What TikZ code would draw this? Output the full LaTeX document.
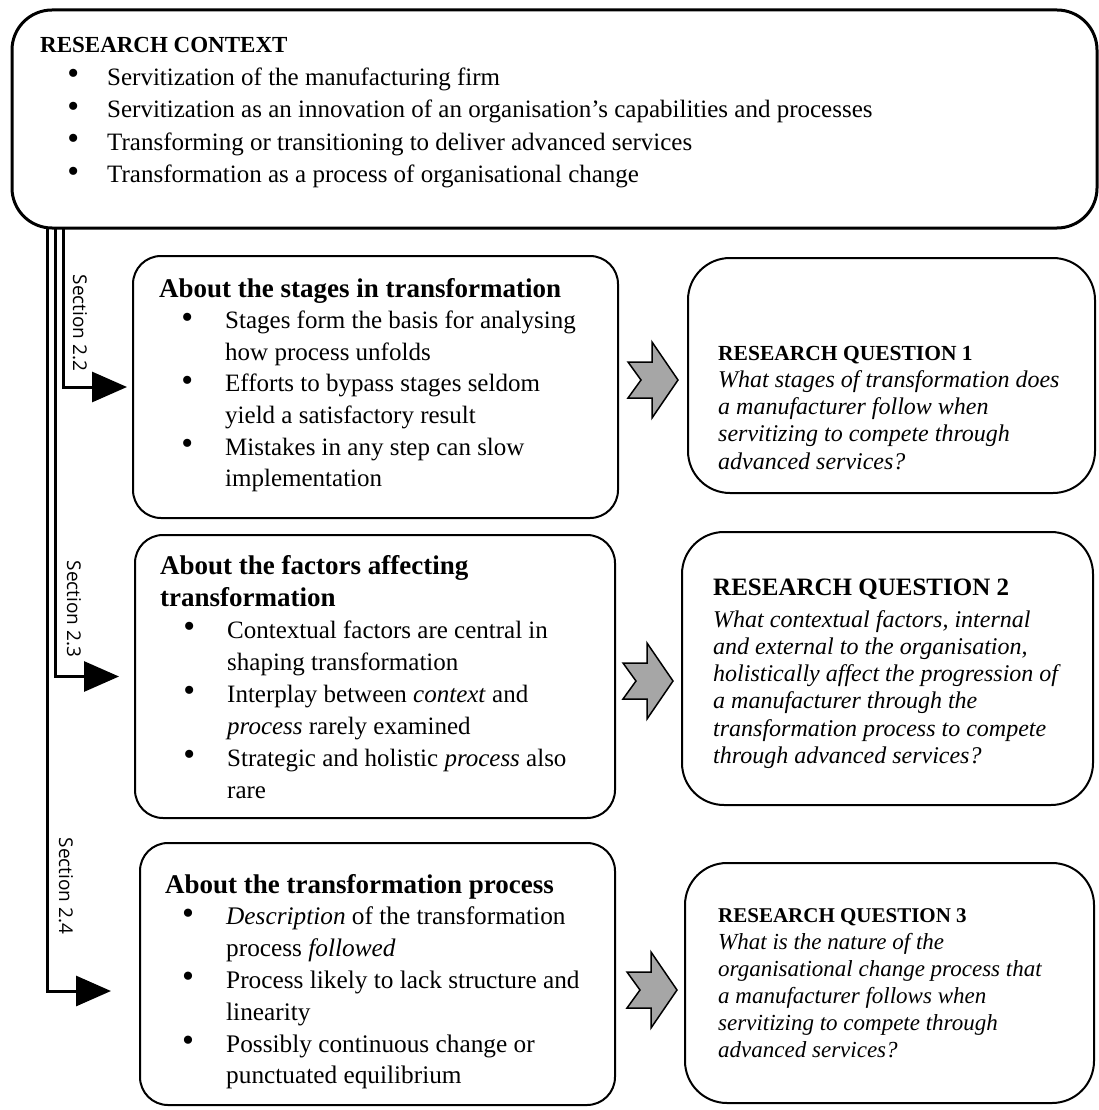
\documentclass[tikz,border=0pt]{standalone}
\usepackage{fontspec}
\usepackage{graphicx}
\setmainfont{Liberation Serif}
\newfontfamily\secfont{Open Sans}
\usetikzlibrary{arrows.meta}
\newcommand\bitem[3]{\par\hangindent=#1pt\hangafter=0\noindent\llap{\raisebox{0.02em}{\scalebox{1.35}{\textbullet}}\hspace{#2pt}}#3}
\begin{document}
\begin{tikzpicture}[x=1pt,y=-1pt,
  topbox/.style={draw, line width=3pt, rounded corners=40pt, inner sep=0pt},
  lbox/.style={draw, line width=2pt, rounded corners=28pt, inner sep=0pt},
  rqbox/.style={draw, line width=2pt, rounded corners=42pt, inner sep=0pt},
  txt/.style={anchor=base west, inner sep=0pt},
  conn/.style={line width=3pt, -{Triangle[length=35pt,width=30pt]}},
  sec/.style={font=\secfont\fontsize{19}{22}\selectfont, rotate=-90, inner sep=0pt},
  blk/.style={draw, line width=1.5pt, fill=black!35, line join=miter}
]
\useasboundingbox (0,0) rectangle (1099,1110);

% boxes
\node[topbox, minimum width=1085, minimum height=218] (ctx) at (554.5,119) {};
\node[lbox, minimum width=485, minimum height=262] (b1) at (375.5,387) {};
\node[lbox, minimum width=480, minimum height=283] (b2) at (375,676.5) {};
\node[lbox, minimum width=475, minimum height=262] (b3) at (377.5,974) {};
\node[rqbox, minimum width=407, minimum height=235] (q1) at (891.5,375.5) {};
\node[rqbox, minimum width=411, minimum height=273] (q2) at (887.5,668.5) {};
\node[rqbox, minimum width=409, minimum height=240] (q3) at (889.5,983) {};

% top text
\node[txt] (ctxt) at (40,53) {\parbox[t]{1040pt}{\fontsize{25}{32.5}\selectfont
{\fontsize{23}{32.5}\selectfont\textbf{RESEARCH CONTEXT}}
\bitem{67}{28}{Servitization of the manufacturing firm}
\bitem{67}{28}{Servitization as an innovation of an organisation’s capabilities and processes}
\bitem{67}{28}{Transforming or transitioning to deliver advanced services}
\bitem{67}{28}{Transformation as a process of organisational change}}};

% left box texts
\node[txt] (b1t) at (159,297) {\parbox[t]{450pt}{\fontsize{25}{31.6}\selectfont
{\fontsize{27}{31.6}\selectfont\textbf{About the stages in transformation}}
\bitem{66}{32}{Stages form the basis for analysing\\how process unfolds}
\bitem{66}{32}{Efforts to bypass stages seldom\\yield a satisfactory result}
\bitem{66}{32}{Mistakes in any step can slow\\implementation}}};

\node[txt] (b2t) at (160,574) {\parbox[t]{450pt}{\fontsize{25}{32}\selectfont
{\fontsize{27}{31}\selectfont\textbf{About the factors affecting\\transformation}}
\bitem{67}{32}{Contextual factors are central in\\shaping transformation}
\bitem{67}{32}{Interplay between \textit{context} and\\\textit{process} rarely examined}
\bitem{67}{32}{Strategic and holistic \textit{process} also\\rare}}};

\node[txt] (b3t) at (165,893) {\parbox[t]{450pt}{\fontsize{25.3}{31.8}\selectfont
{\fontsize{27}{31}\selectfont\textbf{About the transformation process}}
\bitem{61}{32}{\textit{Description} of the transformation\\process \textit{followed}}
\bitem{61}{32}{Process likely to lack structure and\\linearity}
\bitem{61}{32}{Possibly continuous change or\\punctuated equilibrium}}};

% RQ texts
\node[txt] (q1t) at (718,360) {\parbox[t]{375pt}{\fontsize{24}{27.3}\selectfont
{\fontsize{21.5}{27.3}\selectfont\textbf{RESEARCH QUESTION 1}}\par
\textit{What stages of transformation does\\a manufacturer follow when\\servitizing to compete through\\advanced services?}}};

\node[txt] (q2t) at (713,595) {\parbox[t]{378pt}{\fontsize{24}{27.2}\selectfont
{\fontsize{25}{32}\selectfont\textbf{RESEARCH QUESTION 2}}\par\vspace{5pt}
\textit{What contextual factors, internal\\and external to the organisation,\\holistically affect the progression of\\a manufacturer through the\\transformation process to compete\\through advanced services?}}};

\node[txt] (q3t) at (718,922) {\parbox[t]{375pt}{\fontsize{23}{27}\selectfont
{\fontsize{21}{27}\selectfont\textbf{RESEARCH QUESTION 3}}\par
\textit{What is the nature of the\\organisational change process that\\a manufacturer follows when\\servitizing to compete through\\advanced services?}}};

% connectors
\coordinate (s2) at (63,228);
\coordinate (s3) at (55,228);
\coordinate (s4) at (47,228);
\draw[conn] (s2) |- ([xshift=-5pt]b1.west);
\draw[conn] (s3) |- ([xshift=-15pt]b2.west);
\draw[conn] (s4) |- ([xshift=-28pt,yshift=-17pt]b3.west);

\node[sec] (l2) at (80,323) {Section 2.2};
\node[sec] (l3) at (74,609) {Section 2.3};
\node[sec] (l4) at (66,886) {Section 2.4};

% block arrows
\foreach \nm/\x/\y in {a1/628/380, a2/623/681, a3/627/990}{
  \coordinate (\nm) at (\x,\y);
  \draw[blk] (\nm) ++(0,-18) -- ++(24,0) -- ++(0,-20) -- ++(26,38) -- ++(-26,38) -- ++(0,-20) -- ++(-24,0) -- ++(13,-18) -- cycle;
}
\end{tikzpicture}
\end{document}
